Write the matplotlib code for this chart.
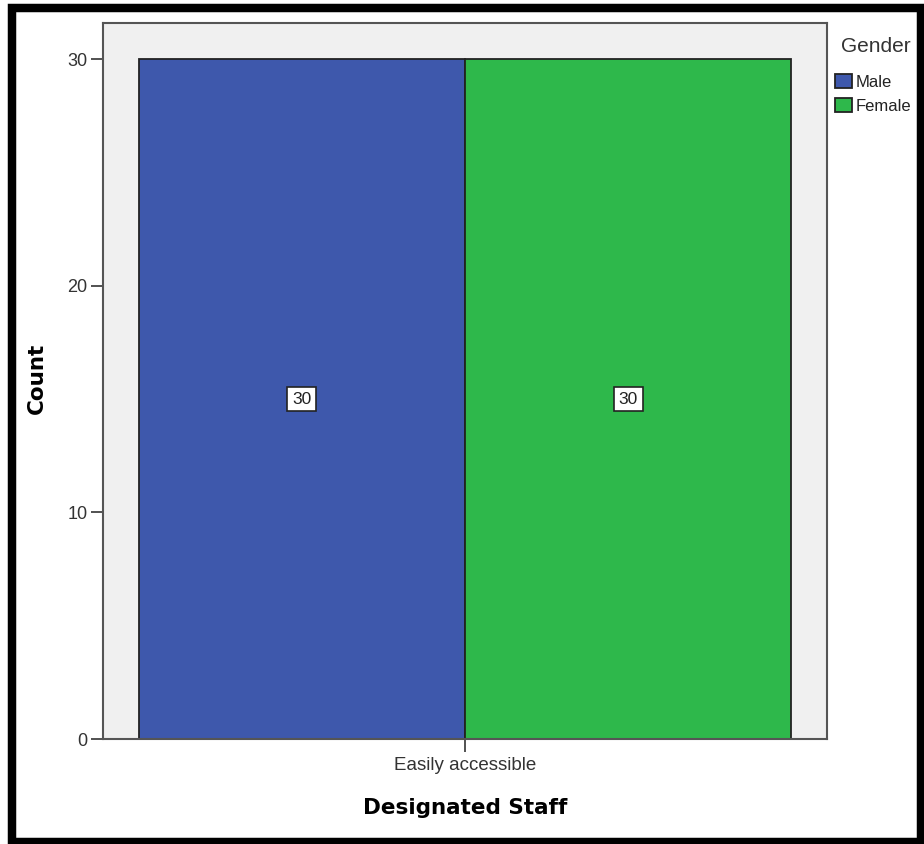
import matplotlib.pyplot as plt
from matplotlib.patches import Rectangle

categories = ['Easily accessible']
genders = ['Male', 'Female']
counts = [30, 30]
colors = ['#3E58AC', '#2EB84B']

W, H = 924, 844
fig = plt.figure(figsize=(W / 100, H / 100), dpi=100)
ax = fig.add_axes([103 / W, 1 - 739 / H, 724 / W, 716 / H])
ax.set_facecolor('#F0F0F0')

offsets = [-0.5, 0.5]
handles = []
for i, g in enumerate(genders):
    bars = ax.bar(offsets[i], counts[i], width=1.0, color=colors[i],
                  edgecolor='#222222', linewidth=1.3, label=g, zorder=2)
    ax.bar_label(bars, label_type='center', fontsize=12.5, family='Liberation Sans',
                 color='#222222',
                 bbox=dict(boxstyle='square,pad=0.28', fc='white', ec='#222222', lw=1.2))
    handles.append(bars)

ax.set_xlim(-1.11, 1.11)
ax.set_ylim(0, 31.59)
ax.set_yticks([0, 10, 20, 30])
ax.set_xticks([0])
ax.set_xticklabels(categories)

for lbl in ax.get_yticklabels():
    lbl.set_family('Liberation Sans')
    lbl.set_fontsize(13)
for lbl in ax.get_xticklabels():
    lbl.set_family('Liberation Sans')
    lbl.set_fontsize(13.5)

ax.tick_params(axis='both', direction='out', length=9, width=1.2, colors='#333333',
               labelcolor='#333333')
ax.tick_params(axis='y', pad=2)
ax.tick_params(axis='x', pad=4)

for s in ax.spines.values():
    s.set_color('#555555')
    s.set_linewidth(1.5)

ax.set_xlabel('Designated Staff', fontsize=15.5, fontweight='bold', family='DejaVu Sans', va='center')
ax.xaxis.set_label_coords(0.5, -0.0964)
ax.set_ylabel('Count', fontsize=15.5, fontweight='bold', family='DejaVu Sans', va='center')
ax.yaxis.set_label_coords(-0.0912, 0.503)

# legend entries, title drawn separately to match spacing
leg = ax.legend(handles=handles, labels=genders, loc='upper left',
                bbox_to_anchor=(835 / W, 1 - 74 / H), bbox_transform=fig.transFigure,
                frameon=False, borderpad=0, borderaxespad=0, handlelength=1.0, handleheight=0.95,
                handletextpad=0.25, labelspacing=0.48,
                prop={'family': 'Liberation Sans', 'size': 12})
for t in leg.get_texts():
    t.set_color('#222222')
fig.text(841 / W, 1 - 47 / H, 'Gender', fontsize=15, family='Liberation Sans',
         color='#333333', ha='left', va='center')

fig.patches.append(Rectangle((12 / W, 1 - 842 / H), 909 / W, 834 / H, transform=fig.transFigure,
                             fill=False, edgecolor='black', linewidth=6.1))

fig.savefig('out.png', dpi=100)
